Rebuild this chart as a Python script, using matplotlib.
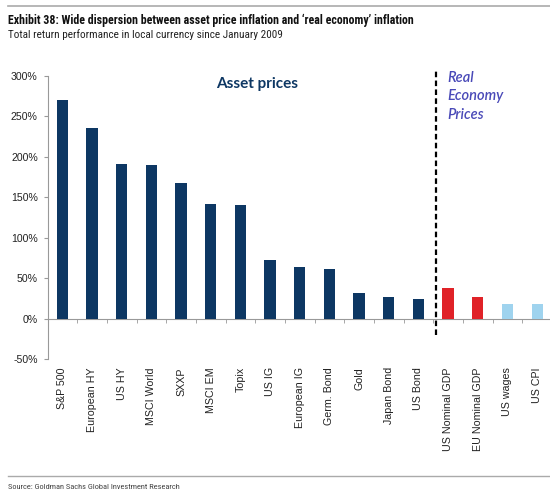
import matplotlib
matplotlib.use("Agg")
import matplotlib.pyplot as plt
from matplotlib import font_manager
import numpy as np

categories = ["S&P 500", "European HY", "US HY", "MSCI World", "SXXP", "MSCI EM",
              "Topix", "US IG", "European IG", "Germ. Bond", "Gold", "Japan Bond",
              "US Bond", "US Nominal GDP", "EU Nominal GDP", "US wages", "US CPI"]
values = [270, 235, 191, 190, 167, 141, 140, 72, 64, 61, 32, 27, 24, 38, 26, 18, 18]
groups = ["asset"] * 13 + ["gdp", "gdp", "real", "real"]
yticks = [-50, 0, 50, 100, 150, 200, 250, 300]

colors = {"asset": "#0d3763", "gdp": "#e02228", "real": "#9fd3ee"}

avail = {f.name for f in font_manager.fontManager.ttflist}
def pick(*names):
    for n in names:
        if n in avail:
            return n
    return "DejaVu Sans"

narrow = pick("Liberation Sans Narrow", "Roboto Condensed", "Open Sans Condensed", "Liberation Sans")
arial = pick("Liberation Sans", "Arial", "DejaVu Sans")
calibri = pick("Lato", "Open Sans", "DejaVu Sans")

W, H = 550, 503
fig = plt.figure(figsize=(W / 100, H / 100), dpi=100)
fig.patch.set_facecolor("white")

def px(x, y):
    return x / W, 1 - y / H

ax = fig.add_axes([47.5 / W, 1 - 359 / H, (552 - 47.5) / W, (359 - 75.7) / H])
x = np.arange(len(categories))
ax.bar(x, values, width=0.38, color=[colors[g] for g in groups], zorder=3)
ax.set_xlim(-0.5, len(categories) - 0.5)
ax.set_ylim(-50, 300)
ax.set_yticks(yticks)
ax.set_yticklabels([f"{v}%" for v in yticks], fontfamily=arial, fontsize=7.6, color="#222")
for s in ["top", "right"]:
    ax.spines[s].set_visible(False)
ax.spines["left"].set_color("#999")
ax.spines["bottom"].set_position(("data", 0))
ax.spines["bottom"].set_color("#999")
ax.tick_params(axis="y", direction="out", length=3, color="#999", pad=4)
ax.set_xticks(x)
ax.set_xticklabels(categories, rotation=90, fontfamily=arial, fontsize=7.7, color="#222",
                   va="top", ha="center")
ax.set_xticks(np.arange(len(categories) + 1) - 0.5, minor=True)
ax.tick_params(axis="x", which="major", length=0, pad=35)
ax.tick_params(axis="x", which="minor", length=3, direction="out", color="#999")

ax.axvline(12.58, ymin=0.085, ymax=1.024, color="black", lw=1.6,
           linestyle=(0, (2.5, 1.5)), clip_on=False, zorder=4)

ax.text(6.57, 289.5, "Asset prices", fontfamily=calibri, fontweight="bold",
        fontsize=11, color="#0d3763", ha="center", va="center")
ax.text(12.96, 306, "Real\nEconomy\nPrices", fontfamily=calibri, fontstyle="italic",
        fontweight="semibold", fontsize=10.5, color="#4a4ab8", ha="left", va="top",
        linespacing=1.4, clip_on=False)

def fit_text(xp, yp, s, target_w, **kw):
    t = fig.text(*px(xp, yp), s, ha="left", va="center", **kw)
    r = fig.canvas.get_renderer()
    w = t.get_window_extent(r).width
    t.set_fontsize(t.get_fontsize() * target_w / w)
    return t

fig.canvas.draw()
fit_text(8, 20, "Exhibit 38: Wide dispersion between asset price inflation and \u2018real economy\u2019 inflation",
         404, fontfamily=narrow, fontweight="bold", fontsize=9, color="#111")
fit_text(8, 35, "Total return performance in local currency since January 2009", 274,
         fontfamily=narrow, fontsize=8, color="#222")
fit_text(8, 487, "Source: Goldman Sachs Global Investment Research", 171,
         fontfamily=narrow, fontsize=6.5, color="#444")

fig.add_artist(plt.Line2D([8 / W, 1], [1 - 6 / H, 1 - 6 / H], color="#aaa", lw=1.2))
fig.add_artist(plt.Line2D([8 / W, 1], [1 - 476 / H, 1 - 476 / H], color="#aaa", lw=1.0))

fig.savefig("out.png", dpi=100, facecolor="white")
